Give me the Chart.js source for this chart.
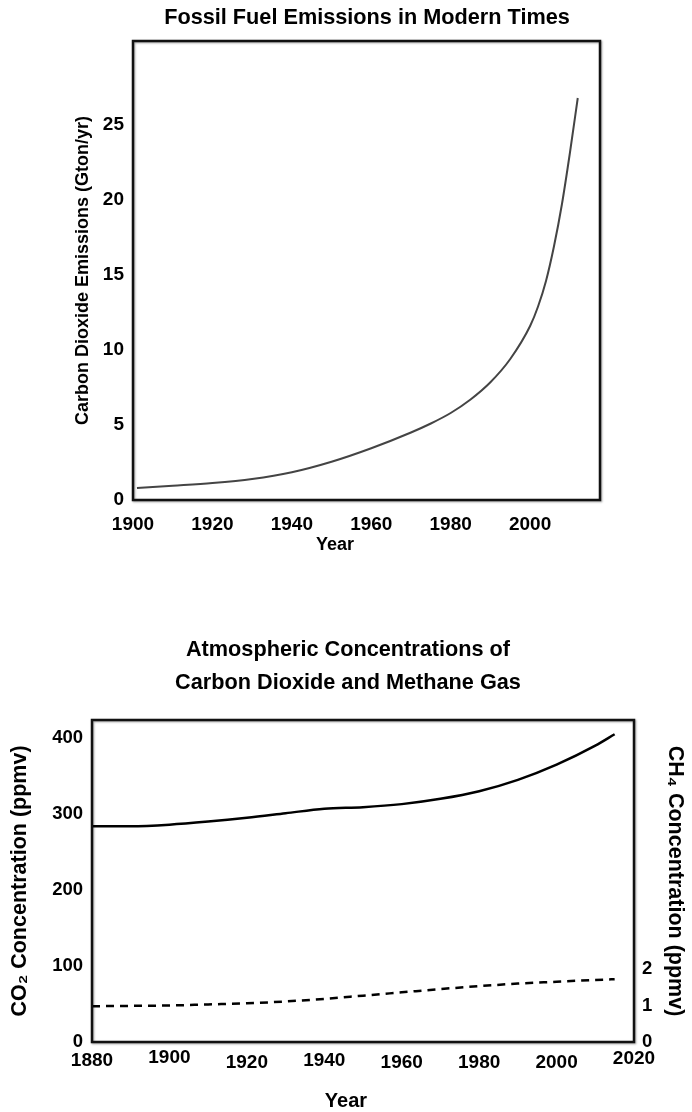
<!DOCTYPE html>
<html>
<head>
<meta charset="utf-8">
<script src="https://cdn.jsdelivr.net/npm/chart.js@4.4.1/dist/chart.umd.min.js"></script>
<style>
  html, body { margin: 0; padding: 0; background: #fff; overflow: hidden; width: 692px; height: 1112px; }
  .panel { position: absolute; left: 0; width: 692px; }
  #top { top: 0; height: 580px; }
  #bottom { top: 580px; height: 532px; }
</style>
</head>
<body>
<div class="panel" id="top"><canvas id="emissions" width="692" height="580"></canvas></div>
<div class="panel" id="bottom"><canvas id="concentrations" width="692" height="532"></canvas></div>
<script>
// Fossil fuel CO2 emissions (Gton/yr)
const emissionYears  = [1901, 1910, 1920, 1930, 1940, 1950, 1960, 1970, 1975, 1980, 1985, 1990, 1995, 2000, 2002, 2004, 2006, 2008, 2010, 2012];
const emissionValues = [0.8, 0.95, 1.13, 1.4, 1.85, 2.55, 3.45, 4.5, 5.1, 5.8, 6.7, 7.85, 9.4, 11.6, 12.9, 14.6, 16.9, 19.7, 23.1, 26.8];
const emissionYearTicks  = [1900, 1920, 1940, 1960, 1980, 2000];
const emissionValueTicks = [0, 5, 10, 15, 20, 25];

// Atmospheric CO2 (ppmv, left axis) and CH4 (ppmv, right axis)
const concentrationYears = [1880, 1890, 1900, 1910, 1920, 1930, 1940, 1950, 1960, 1970, 1980, 1990, 2000, 2010, 2015];
const co2Values = [284, 284, 286, 290, 295, 301, 307, 309, 313, 320, 330, 345, 365, 390, 405];
const ch4Values = [0.98, 0.99, 1.0, 1.03, 1.06, 1.11, 1.18, 1.27, 1.36, 1.45, 1.53, 1.6, 1.65, 1.7, 1.72];
const concentrationYearTicks = [1880, 1900, 1920, 1940, 1960, 1980, 2000, 2020];
const co2Ticks = [0, 100, 200, 300, 400];
const ch4Ticks = [0, 1, 2];

const FONT = "'Liberation Sans', Arial, Helvetica, sans-serif";
Chart.defaults.font.family = FONT;
Chart.defaults.color = '#000';

const boldFont = size => ({ family: FONT, size: size, weight: 'bold' });
const setTicks = values => scale => { scale.ticks = values.map(v => ({ value: v })); };
const plainNumber = v => String(v);

// Year labels under the lower plot sit at slightly uneven heights (px lifted)
const yearLabelLift = { 1880: 2, 1900: 5, 1940: 2, 2020: 4 };

// Black frame around the plotting area
const framePlugin = {
  id: 'frame',
  afterDatasetsDraw(chart) {
    const { ctx, chartArea: a } = chart;
    ctx.save();
    ctx.shadowColor = 'rgba(0,0,0,0.35)';
    ctx.shadowOffsetX = 1;
    ctx.shadowOffsetY = 1;
    ctx.shadowBlur = 2;
    ctx.strokeStyle = '#111';
    ctx.lineWidth = 2.5;
    ctx.strokeRect(a.left, a.top, a.right - a.left, a.bottom - a.top);
    ctx.restore();
  }
};

// Titles and the "Year" caption
const captionPlugin = {
  id: 'captions',
  afterDraw(chart, args, opts) {
    const ctx = chart.ctx;
    ctx.save();
    ctx.fillStyle = '#000';
    ctx.textAlign = 'center';
    ctx.textBaseline = 'middle';
    (opts.items || []).forEach(it => {
      ctx.font = `bold ${it.size}px ${FONT}`;
      ctx.fillText(it.text, it.x, it.y);
    });
    ctx.restore();
  }
};

new Chart(document.getElementById('emissions'), {
  type: 'line',
  data: {
    datasets: [{
      data: emissionYears.map((y, i) => ({ x: y, y: emissionValues[i] })),
      borderColor: '#444',
      borderWidth: 2,
      pointRadius: 0,
      cubicInterpolationMode: 'monotone',
      fill: false
    }]
  },
  options: {
    responsive: false,
    animation: false,
    devicePixelRatio: 1,
    layout: { padding: { top: 41, right: 92, bottom: 0, left: 0 } },
    plugins: {
      legend: { display: false },
      tooltip: { enabled: false },
      captions: {
        items: [
          { text: 'Fossil Fuel Emissions in Modern Times', x: 367, y: 18, size: 21.7 },
          { text: 'Year', x: 335, y: 545, size: 18 }
        ]
      }
    },
    scales: {
      x: {
        type: 'linear',
        min: 1900,
        max: 2017.6,
        afterBuildTicks: setTicks(emissionYearTicks),
        afterFit: s => { s.height = 80; },
        grid: { display: false, drawTicks: false },
        border: { display: false },
        ticks: { font: boldFont(19), padding: 13.6, maxRotation: 0, autoSkip: false, callback: plainNumber }
      },
      y: {
        type: 'linear',
        min: 0,
        max: 30.6,
        afterBuildTicks: setTicks(emissionValueTicks),
        afterFit: s => { s.width = 133; },
        grid: { display: false, drawTicks: false },
        border: { display: false },
        ticks: { font: boldFont(19), padding: 9, callback: plainNumber },
        title: {
          display: true,
          text: 'Carbon Dioxide Emissions (Gton/yr)',
          font: boldFont(18),
          padding: { top: 72, bottom: 0 }
        }
      }
    }
  },
  plugins: [framePlugin, captionPlugin]
});

new Chart(document.getElementById('concentrations'), {
  type: 'line',
  data: {
    datasets: [
      {
        label: 'CO2',
        data: concentrationYears.map((y, i) => ({ x: y, y: co2Values[i] })),
        yAxisID: 'y',
        borderColor: '#000',
        borderWidth: 2.5,
        pointRadius: 0,
        cubicInterpolationMode: 'monotone',
        fill: false
      },
      {
        label: 'CH4',
        data: concentrationYears.map((y, i) => ({ x: y, y: ch4Values[i] })),
        yAxisID: 'y1',
        borderColor: '#000',
        borderWidth: 2.5,
        borderDash: [8, 6],
        pointRadius: 0,
        cubicInterpolationMode: 'monotone',
        fill: false
      }
    ]
  },
  options: {
    responsive: false,
    animation: false,
    devicePixelRatio: 1,
    layout: { padding: { top: 140, right: 0, bottom: 0, left: 0 } },
    plugins: {
      legend: { display: false },
      tooltip: { enabled: false },
      captions: {
        items: [
          { text: 'Atmospheric Concentrations of', x: 348, y: 70, size: 21.7 },
          { text: 'Carbon Dioxide and Methane Gas', x: 348, y: 103, size: 21.7 },
          { text: 'Year', x: 346, y: 521, size: 20 }
        ]
      }
    },
    scales: {
      x: {
        type: 'linear',
        min: 1880,
        max: 2020,
        afterBuildTicks: setTicks(concentrationYearTicks),
        afterFit: s => { s.height = 70; },
        grid: { display: false, drawTicks: false },
        border: { display: false },
        ticks: {
          font: ctx => {
            const lift = (ctx.tick && yearLabelLift[ctx.tick.value]) || 0;
            return { family: FONT, size: 19, weight: 'bold', lineHeight: (22.8 - 2 * lift) + 'px' };
          },
          padding: 9,
          maxRotation: 0,
          autoSkip: false,
          callback: plainNumber
        }
      },
      y: {
        type: 'linear',
        position: 'left',
        min: 0,
        max: 423.7,
        afterBuildTicks: setTicks(co2Ticks),
        afterFit: s => { s.width = 92; },
        grid: { display: false, drawTicks: false },
        border: { display: false },
        ticks: { font: boldFont(18.5), padding: 9, callback: plainNumber },
        title: {
          display: true,
          text: 'CO\u2082 Concentration (ppmv)',
          font: boldFont(21.5),
          padding: { top: 7, bottom: 0 }
        }
      },
      y1: {
        type: 'linear',
        position: 'right',
        min: 0,
        max: 8.82,
        afterBuildTicks: setTicks(ch4Ticks),
        afterFit: s => { s.width = 58; },
        grid: { display: false, drawTicks: false },
        border: { display: false },
        ticks: { font: boldFont(18.5), padding: 8, callback: plainNumber },
        title: {
          display: true,
          text: 'CH\u2084 Concentration (ppmv)',
          font: boldFont(21.5),
          padding: { top: 4, bottom: 0 }
        }
      }
    }
  },
  plugins: [framePlugin, captionPlugin]
});
</script>
</body>
</html>
